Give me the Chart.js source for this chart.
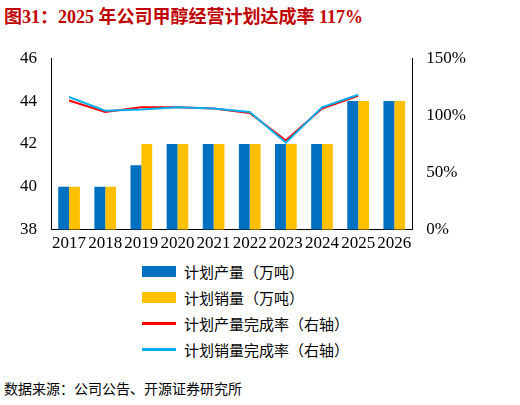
<!DOCTYPE html>
<html>
<head>
<meta charset="utf-8">
<script src="https://cdn.jsdelivr.net/npm/chart.js@4"></script>
<style>
  body { margin: 0; width: 520px; height: 405px; background: #fff; font-family: "Liberation Serif", "Noto Sans CJK SC", serif; position: relative; overflow: hidden; }
  #title { position: absolute; left: 4px; top: 2px; font-size: 18px; font-weight: bold; color: #C00000; }
  #wrap { position: absolute; left: 0; top: 42px; width: 472px; height: 216px; }
  #legend { position: absolute; left: 142px; top: 258px; font-size: 15px; color: #000; }
  .item { display: flex; align-items: center; height: 26px; }
  .sw { width: 34px; margin-right: 8px; }
  #src { position: absolute; left: 4px; top: 378px; font-size: 14px; color: #000; }
</style>
</head>
<body>
<div id="title">图31：2025 年公司甲醇经营计划达成率 117%</div>
<div id="wrap"><canvas id="c"></canvas></div>
<div id="legend">
  <div class="item"><span class="sw" style="height:11px;background:#0070C0"></span>计划产量（万吨）</div>
  <div class="item"><span class="sw" style="height:11px;background:#FFC000"></span>计划销量（万吨）</div>
  <div class="item"><span class="sw" style="height:3px;background:#FF0000"></span>计划产量完成率（右轴）</div>
  <div class="item"><span class="sw" style="height:3px;background:#00B0F0"></span>计划销量完成率（右轴）</div>
</div>
<div id="src">数据来源：公司公告、开源证券研究所</div>
<script>
const years = ['2017', '2018', '2019', '2020', '2021', '2022', '2023', '2024', '2025', '2026'];
const planOutput = [40, 40, 41, 42, 42, 42, 42, 42, 44, 44];
const planSales = [40, 40, 42, 42, 42, 42, 42, 42, 44, 44];
const outputRate = [113, 103, 107, 107, 106, 102, 78, 106, 117, null];
const salesRate = [116, 104, 105, 107, 106, 103, 76, 107, 118, null];

const font = { family: "'Liberation Serif', serif", size: 17 };

new Chart(document.getElementById('c'), {
  data: {
    labels: years,
    datasets: [
      { type: 'line', label: '计划产量完成率（右轴）', data: outputRate, yAxisID: 'y1', borderColor: '#FF0000', borderWidth: 2, pointRadius: 0, order: 1 },
      { type: 'line', label: '计划销量完成率（右轴）', data: salesRate, yAxisID: 'y1', borderColor: '#00B0F0', borderWidth: 2, pointRadius: 0, order: 0 },
      { type: 'bar', label: '计划产量（万吨）', data: planOutput, yAxisID: 'y', backgroundColor: '#0070C0', categoryPercentage: 0.6, barPercentage: 1, order: 2 },
      { type: 'bar', label: '计划销量（万吨）', data: planSales, yAxisID: 'y', backgroundColor: '#FFC000', categoryPercentage: 0.6, barPercentage: 1, order: 2 }
    ]
  },
  options: {
    responsive: true,
    maintainAspectRatio: false,
    animation: false,
    layout: { padding: { left: 14, right: 0, top: 10 } },
    plugins: { legend: { display: false }, tooltip: { enabled: false } },
    scales: {
      x: {
        grid: { display: false, drawTicks: false },
        border: { color: '#000' },
        ticks: { color: '#000', font, maxRotation: 0, autoSkip: false, padding: 4 }
      },
      y: {
        min: 38, max: 46,
        grid: { display: false },
        border: { color: '#000' },
        ticks: { stepSize: 2, color: '#000', font, padding: 6 }
      },
      y1: {
        position: 'right', min: 0, max: 150,
        grid: { display: false },
        border: { color: '#000' },
        ticks: { stepSize: 50, color: '#000', font, padding: 6, callback: v => v + '%' }
      }
    }
  }
});
</script>
</body>
</html>
